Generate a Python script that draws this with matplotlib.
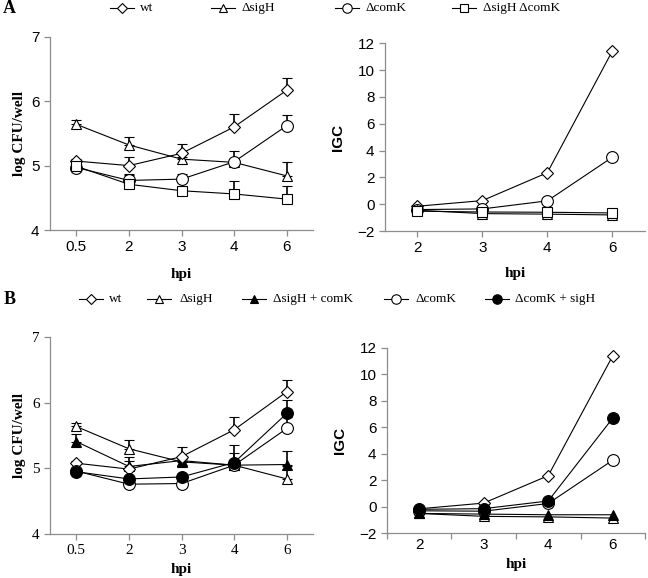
import numpy as np
import matplotlib.pyplot as plt
from matplotlib.lines import Line2D

# ---- data ----
hpi_cfu = ['0.5', '2', '3', '4', '6']
hpi_igc = ['2', '3', '4', '6']

# panel A, log CFU/well
a_wt = [5.07, 5.00, 5.19, 5.60, 6.17]
a_wt_err = [0.04, 0.13, 0.14, 0.20, 0.19]
a_sigH = [5.64, 5.32, 5.10, 5.05, 4.84]
a_sigH_err = [0.06, 0.12, 0.04, 0.05, 0.21]
a_comK = [4.97, 4.77, 4.79, 5.06, 5.62]
a_comK_err = [0.03, 0.10, 0.08, 0.17, 0.17]
a_sigHcomK = [4.99, 4.71, 4.61, 4.56, 4.48]
a_sigHcomK_err = [0.03, 0.15, 0.03, 0.20, 0.21]

# panel A, IGC
a_wt_igc = [-0.15, 0.27, 2.35, 11.42]
a_sigH_igc = [-0.45, -0.70, -0.74, -0.80]
a_comK_igc = [-0.40, -0.35, 0.25, 3.50]
a_sigHcomK_igc = [-0.52, -0.58, -0.60, -0.65]

# panel B, log CFU/well
b_wt = [5.08, 4.99, 5.18, 5.59, 6.17]
b_wt_err = [0.03, 0.12, 0.14, 0.20, 0.18]
b_sigH = [5.64, 5.30, 5.10, 5.05, 4.84]
b_sigH_err = [0.05, 0.13, 0.04, 0.05, 0.20]
b_sigHc = [5.41, 5.03, 5.12, 5.05, 5.06]
b_sigHc_err = [0.12, 0.15, 0.05, 0.05, 0.21]
b_comK = [4.96, 4.76, 4.77, 5.05, 5.61]
b_comK_err = [0.03, 0.08, 0.06, 0.18, 0.17]
b_comKs = [4.95, 4.84, 4.87, 5.09, 5.84]
b_comKs_err = [0.03, 0.05, 0.05, 0.27, 0.21]

# panel B, IGC
b_wt_igc = [-0.15, 0.28, 2.35, 11.40]
b_sigH_igc = [-0.50, -0.72, -0.76, -0.85]
b_sigHc_igc = [-0.50, -0.55, -0.60, -0.60]
b_comK_igc = [-0.30, -0.33, 0.25, 3.52]
b_comKs_igc = [-0.19, -0.14, 0.44, 6.70]

legA_labels = ['wt', '\u0394sigH', '\u0394comK', '\u0394sigH \u0394comK']
legB_labels = ['wt', '\u0394sigH', '\u0394sigH + comK', '\u0394comK',
               '\u0394comK + sigH']

SERIF = 'Liberation Serif'
SANS = 'Liberation Sans'
GRAY = '#8c8c8c'
W, H = 648, 578

st = {
    'wt':   dict(marker='D', ms=6.0, mfc='white'),
    'sigH': dict(marker='^', ms=7.5, mfc='white'),
    'comK': dict(marker='o', ms=8.5, mfc='white'),
    'dbl':  dict(marker='s', ms=7.5, mfc='white'),
    'sigHc': dict(marker='^', ms=7.5, mfc='black'),
    'comKs': dict(marker='o', ms=8.5, mfc='black'),
}


def style_axes(ax, tickfont):
    for s in ['top', 'right']:
        ax.spines[s].set_visible(False)
    for s in ['left', 'bottom']:
        ax.spines[s].set_color(GRAY)
        ax.spines[s].set_linewidth(0.9)
    ax.tick_params(which='both', direction='out', length=4, color=GRAY,
                   width=0.9, labelsize=11)
    for lab in ax.get_xticklabels() + ax.get_yticklabels():
        lab.set_fontfamily(tickfont)


def cfu_panel(ax, series, tickfont, xpad):
    x = np.arange(len(hpi_cfu))
    for vals, err, key in series:
        ax.errorbar(x, vals, yerr=[np.zeros(len(err)), err], color='black',
                    lw=0.8, mec='black', mew=0.8, capsize=3.5, capthick=1.2,
                    elinewidth=1.2, **st[key])
    ax.set_xlim(-0.5, len(hpi_cfu) - 0.5)
    ax.set_ylim(4, 7)
    ax.set_yticks([4, 5, 6, 7])
    ax.set_xticks(x)
    ax.set_xticklabels(hpi_cfu)
    style_axes(ax, tickfont)
    ax.set_ylabel('log CFU/well', fontfamily=SERIF, fontweight='bold',
                  fontsize=11, labelpad=4)
    ax.set_xlabel('hpi', fontfamily=SERIF, fontweight='bold', fontsize=11,
                  labelpad=xpad)


def igc_panel(ax, series, xpad, between=False):
    x = np.arange(len(hpi_igc))
    for vals, key in series:
        ax.plot(x, vals, color='black', lw=0.8, mec='black', mew=0.8,
                **st[key])
    ax.set_xlim(-0.5, len(hpi_igc) - 0.5)
    ax.set_ylim(-2, 12)
    ax.set_yticks(range(-2, 13, 2))
    ax.set_xticks(x)
    ax.set_xticklabels(hpi_igc)
    if between:
        ax.set_xticks(np.arange(len(hpi_igc) + 1) - 0.5, minor=True)
    style_axes(ax, SANS)
    if between:
        ax.tick_params(axis='x', which='major', length=0)
    ax.set_ylabel('IGC', fontfamily=SANS, fontweight='bold', fontsize=11,
                  labelpad=9)
    ax.set_xlabel('hpi', fontfamily=SERIF, fontweight='bold', fontsize=11,
                  labelpad=xpad)


fig = plt.figure(figsize=(6.48, 5.78), dpi=100)

axA1 = fig.add_axes([0.0772, 0.602, 0.406, 0.3345])
axA2 = fig.add_axes([0.594, 0.6003, 0.401, 0.3247])
axB1 = fig.add_axes([0.0772, 0.0761, 0.406, 0.3403])
axB2 = fig.add_axes([0.597, 0.0773, 0.3985, 0.3211])

cfu_panel(axA1, [(a_sigH, a_sigH_err, 'sigH'),
                 (a_wt, a_wt_err, 'wt'),
                 (a_comK, a_comK_err, 'comK'),
                 (a_sigHcomK, a_sigHcomK_err, 'dbl')], SANS, 10)
igc_panel(axA2, [(a_wt_igc, 'wt'), (a_comK_igc, 'comK'),
                 (a_sigH_igc, 'sigH'), (a_sigHcomK_igc, 'dbl')], 8)

cfu_panel(axB1, [(b_sigH, b_sigH_err, 'sigH'),
                 (b_sigHc, b_sigHc_err, 'sigHc'),
                 (b_wt, b_wt_err, 'wt'),
                 (b_comK, b_comK_err, 'comK'),
                 (b_comKs, b_comKs_err, 'comKs')], SERIF, 4)
igc_panel(axB2, [(b_wt_igc, 'wt'), (b_comK_igc, 'comK'),
                 (b_comKs_igc, 'comKs'), (b_sigH_igc, 'sigH'),
                 (b_sigHc_igc, 'sigHc')], 4, between=True)


# ---- legends drawn by hand (pixel positions of marker / text) ----
def legend_row(keys, labels, mx, tx, y):
    yf = 1 - y / H
    for key, lab, m, t in zip(keys, labels, mx, tx):
        kw = dict(st[key])
        kw['ms'] = kw['ms'] * 0.8
        fig.add_artist(Line2D([(m - 12) / W, (m + 12) / W], [yf, yf],
                              transform=fig.transFigure, color='black',
                              lw=0.8))
        fig.add_artist(Line2D([m / W], [yf], transform=fig.transFigure,
                              color='black', mec='black', mew=0.8, **kw))
        fig.text(t / W, yf, lab, fontfamily=SERIF, fontsize=9.5,
                 va='center', ha='left')


legend_row(['wt', 'sigH', 'comK', 'dbl'], legA_labels,
           [122, 223, 347, 464], [140, 242, 366, 483], 8)
legend_row(['wt', 'sigH', 'sigHc', 'comK', 'comKs'], legB_labels,
           [91, 159, 254, 396, 497], [109, 179, 273, 415, 515], 299)

fig.text(0.005, 0.985, 'A', fontfamily=SERIF, fontweight='bold',
         fontsize=13, va='center')
fig.text(0.005, 1 - 299 / H, 'B', fontfamily=SERIF, fontweight='bold',
         fontsize=13, va='center')

fig.savefig('out.png', dpi=100)
